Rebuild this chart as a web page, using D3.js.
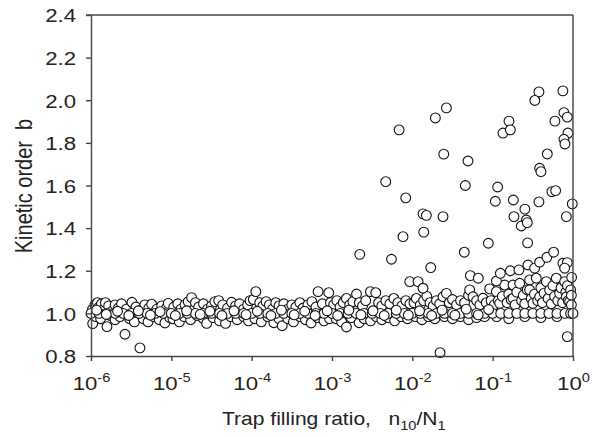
<!DOCTYPE html>
<html>
<head>
<meta charset="utf-8">
<script src="https://cdn.jsdelivr.net/npm/d3@7"></script>
<style>
  body { margin: 0; background: #fff; }
  svg { display: block; font-family: "Liberation Sans", Arial, sans-serif; }
</style>
</head>
<body>
<svg id="chart" width="596" height="437"></svg>
<script>
// axis ticks
const yTicks = [0.8, 1.0, 1.2, 1.4, 1.6, 1.8, 2.0, 2.2, 2.4];
const xTickExp = [-6, -5, -4, -3, -2, -1, 0];

// points sitting right on b = 1.0 (log10 of n10/N1)
const rowLogN = [-6.0, -5.9, -5.8, -5.7, -5.6, -5.5, -5.4, -5.3, -5.2, -5.1,
  -5.0, -4.9, -4.8, -4.7, -4.6, -4.5, -4.4, -4.3, -4.2, -4.1,
  -4.0, -3.9, -3.8, -3.7, -3.6, -3.5, -3.4, -3.3, -3.2, -3.1,
  -3.0, -2.9, -2.8, -2.7, -2.6, -2.5, -2.4, -2.3, -2.2, -2.1,
  -2.0, -1.9, -1.8, -1.7, -1.6, -1.5, -1.4, -1.3, -1.2, -1.1,
  -1.0, -0.9, -0.8, -0.7, -0.6, -0.5, -0.4, -0.3, -0.2, -0.1, -0.03, 0.0];

// scatter band around b = 1  [log10(n10/N1), b]
const bandPts = [
  [-5.98,1.02],[-5.95,1.04],[-5.92,1.05],[-5.9,1.03],[-5.87,1.045],[-5.84,1.02],[-5.82,1.05],[-5.78,1.035],
  [-5.74,1.01],[-5.7,1.04],[-5.66,1.025],[-5.62,1.045],[-5.56,1.02],[-5.49,1.052],[-5.44,1.03],[-5.38,1.015],
  [-5.33,1.04],[-5.28,1.025],[-5.245,1.043],[-5.18,1.02],[-5.12,1.035],[-5.06,1.025],[-5.039,1.047],
  [-5.979,0.952],[-5.94,0.985],[-5.88,0.975],[-5.801,0.938],[-5.76,0.99],[-5.7,0.97],[-5.64,0.985],[-5.577,0.902],
  [-5.52,0.975],[-5.46,0.96],[-5.391,0.838],[-5.35,0.975],[-5.29,0.96],[-5.22,0.985],[-5.15,0.97],[-5.08,0.955],[-5.02,0.98],
  [-4.97,1.03],[-4.92,1.045],[-4.88,1.02],[-4.83,1.04],[-4.79,1.055],[-4.748,1.074],[-4.7,1.05],[-4.66,1.03],
  [-4.6,1.045],[-4.55,1.02],[-4.5,1.035],[-4.458,1.055],[-4.41,1.06],[-4.36,1.04],[-4.3,1.025],[-4.25,1.052],
  [-4.2,1.035],[-4.15,1.045],[-4.1,1.02],[-4.05,1.04],[-4.02,1.06],
  [-4.98,0.975],[-4.9,0.96],[-4.84,0.985],[-4.76,0.97],[-4.68,0.99],[-4.6,0.975],[-4.56,0.953],[-4.48,0.98],
  [-4.4,0.965],[-4.325,0.953],[-4.26,0.985],[-4.18,0.97],[-4.1,0.985],[-4.04,0.965],
  [-3.98,1.065],[-3.948,1.102],[-3.9,1.05],[-3.86,1.035],[-3.82,1.055],[-3.78,1.04],[-3.74,1.02],[-3.7,1.05],
  [-3.66,1.035],[-3.6,1.045],[-3.55,1.02],[-3.5,1.04],[-3.45,1.03],[-3.4,1.05],[-3.36,1.025],[-3.3,1.04],
  [-3.25,1.055],[-3.2,1.03],[-3.173,1.102],[-3.12,1.045],[-3.04,1.097],[-3.02,1.05],
  [-3.96,0.975],[-3.88,0.96],[-3.8,0.985],[-3.724,0.956],[-3.66,0.975],[-3.62,0.942],[-3.55,0.975],[-3.48,0.96],
  [-3.4,0.985],[-3.33,0.97],[-3.26,0.955],[-3.18,0.98],[-3.1,0.965],[-3.03,0.975],
  [-2.98,1.04],[-2.94,1.06],[-2.9,1.03],[-2.86,1.05],[-2.82,1.07],[-2.78,1.04],[-2.74,1.055],[-2.695,1.091],
  [-2.66,1.05],[-2.62,1.035],[-2.58,1.06],[-2.522,1.102],[-2.455,1.097],[-2.42,1.05],[-2.38,1.035],[-2.33,1.06],
  [-2.28,1.045],[-2.23,1.07],[-2.18,1.05],[-2.13,1.035],[-2.08,1.06],[-2.03,1.045],
  [-2.95,0.975],[-2.88,0.96],[-2.82,0.936],[-2.76,0.98],[-2.663,0.956],[-2.6,0.975],[-2.52,0.965],[-2.45,0.985],
  [-2.38,0.97],[-2.3,0.98],[-2.22,0.965],[-2.14,0.985],[-2.06,0.975],
  [-1.98,1.05],[-1.95,1.07],[-1.9,1.04],[-1.86,1.06],[-1.82,1.08],[-1.78,1.05],[-1.74,1.035],[-1.7,1.06],
  [-1.66,1.045],[-1.618,1.078],[-1.576,1.094],[-1.54,1.05],[-1.5,1.065],[-1.45,1.04],[-1.4,1.06],[-1.35,1.05],
  [-1.3,1.085],[-1.286,1.11],[-1.245,1.078],[-1.2,1.06],[-1.16,1.04],[-1.121,1.071],[-1.08,1.05],[-1.037,1.115],[-1.02,1.06],
  [-1.96,0.985],[-1.88,0.97],[-1.8,0.985],[-1.72,0.975],[-1.6,0.985],[-1.5,0.975],[-1.4,0.985],[-1.3,0.97],[-1.2,0.98],[-1.1,0.985],
  [-0.98,1.04],[-0.954,1.102],[-0.93,1.06],[-0.913,1.047],[-0.88,1.08],[-0.851,1.133],[-0.82,1.05],[-0.8,1.09],
  [-0.77,1.065],[-0.747,1.133],[-0.747,1.071],[-0.72,1.04],[-0.7,1.1],[-0.664,1.141],[-0.64,1.06],[-0.62,1.085],
  [-0.6,1.045],[-0.57,1.11],[-0.54,1.157],[-0.54,1.11],[-0.52,1.07],[-0.499,1.047],[-0.48,1.09],[-0.457,1.165],
  [-0.44,1.06],[-0.415,1.078],[-0.4,1.12],[-0.38,1.05],[-0.36,1.095],[-0.332,1.149],[-0.31,1.07],[-0.291,1.11],
  [-0.27,1.045],[-0.25,1.13],[-0.23,1.08],[-0.208,1.165],[-0.19,1.06],[-0.167,1.094],[-0.15,1.12],[-0.13,1.05],
  [-0.104,1.149],[-0.09,1.1],[-0.083,1.078],[-0.07,1.13],[-0.06,1.06],[-0.042,1.055],[-0.03,1.11],[-0.02,1.085],[-0.02,1.04],
  [-0.95,0.985],[-0.8,0.975],[-0.6,0.985],[-0.4,0.98],[-0.2,0.985]
];

// band points that lie on top of the b = 1.0 row
const bandFrontPts = [
  [-5.93,1.015],[-5.81,0.995],[-5.67,1.01],[-5.53,0.99],[-5.41,1.012],[-5.26,0.992],[-5.14,1.008],
  [-4.95,0.99],[-4.81,1.012],[-4.64,0.995],[-4.52,1.01],[-4.37,0.99],[-4.22,1.012],[-4.07,0.994],
  [-3.93,1.01],[-3.76,0.99],[-3.63,1.015],[-3.47,0.993],[-3.34,1.01],[-3.21,0.99],[-3.06,1.012],
  [-2.93,0.99],[-2.79,1.015],[-2.64,0.993],[-2.49,1.012],[-2.35,0.99],[-2.2,1.015],[-2.05,0.992],
  [-1.91,1.012],[-1.76,0.99],[-1.63,1.015],[-1.47,0.992],[-1.33,1.02],[-1.18,0.993],[-1.05,1.018]
];

// points well above the band, plus two low outliers
const highPts = [
  [-0.424,2.039],[-0.475,1.999],[-0.126,2.044],[-1.576,1.964],[-1.713,1.917],[-2.165,1.861],[-0.797,1.902],
  [-0.872,1.846],[-0.780,1.861],[-0.113,1.942],[-0.071,1.921],[-0.225,1.902],[-0.063,1.846],[-0.113,1.817],
  [-0.100,1.795],[-1.609,1.747],[-1.307,1.715],[-0.320,1.748],[-0.416,1.681],[-0.399,1.665],[-2.331,1.618],
  [-1.340,1.600],[-0.938,1.593],[-2.082,1.542],[-0.967,1.526],[-0.743,1.532],[-0.263,1.571],[-0.216,1.576],
  [-0.424,1.523],[-0.009,1.514],[-0.599,1.489],[-1.867,1.467],[-1.825,1.460],[-1.618,1.454],[-0.735,1.454],
  [-0.581,1.438],[-0.083,1.454],[-0.644,1.410],[-0.569,1.426],[-2.654,1.277],[-2.116,1.360],[-1.858,1.381],
  [-2.260,1.254],[-1.353,1.287],[-1.054,1.329],[-0.565,1.331],[-1.771,1.215],[-2.032,1.149],[-1.929,1.149],
  [-1.867,1.118],[-1.278,1.177],[-1.179,1.165],[-0.954,1.152],[-0.904,1.188],[-0.780,1.200],[-0.673,1.204],
  [-0.561,1.227],[-0.478,1.212],[-0.416,1.240],[-0.325,1.263],[-0.241,1.287],[-0.126,1.235],[-0.071,1.238],
  [-0.104,1.212],[-0.017,1.169],
  [-1.655,0.816],[-0.071,0.891]
];

const svg = d3.select("#chart");
const margin = { top: 15, right: 23, bottom: 81, left: 91 },
      width = 596, height = 437;
const sx = 1.17;   // labels in the original are drawn a bit wide
const axisColor = "#444";

const x = d3.scaleLog()
  .domain([1e-6, 1])
  .range([margin.left, width - margin.right]);

const y = d3.scaleLinear()
  .domain([0.8, 2.4])
  .range([height - margin.bottom, margin.top]);

// markers
const dots = svg.append("g")
  .attr("fill", "#fff")
  .attr("stroke", "#111")
  .attr("stroke-width", 1.1);

const drawDots = pts => dots.selectAll(null)
  .data(pts)
  .enter().append("circle")
  .attr("cx", d => x(Math.pow(10, d[0])))
  .attr("cy", d => y(d[1]))
  .attr("r", 4.9);

drawDots(bandPts);
drawDots(highPts);
drawDots(rowLogN.map(v => [v, 1.0]));
drawDots(bandFrontPts);

// frame: top and right
svg.append("line")
  .attr("x1", margin.left - 5).attr("x2", width - margin.right)
  .attr("y1", y(2.4)).attr("y2", y(2.4))
  .attr("stroke", axisColor).attr("stroke-width", 1.4);
svg.append("line")
  .attr("x1", width - margin.right).attr("x2", width - margin.right)
  .attr("y1", y(2.4)).attr("y2", y(0.8))
  .attr("stroke", axisColor).attr("stroke-width", 1.4);

// y axis
svg.append("g")
  .attr("transform", `translate(${margin.left},0)`)
  .call(d3.axisLeft(y).tickValues(yTicks).tickSize(5).tickSizeOuter(0).tickFormat(d3.format(".1f")))
  .attr("font-family", null).attr("font-size", null)
  .call(g => g.selectAll(".domain, .tick line").attr("stroke", axisColor).attr("stroke-width", 1.4))
  .call(g => g.selectAll(".tick text")
    .attr("x", 0).attr("dy", null)
    .attr("transform", `translate(-15,6.8) scale(${sx},1)`)
    .attr("font-size", 19)
    .attr("fill", "#222"));

// x axis
const xAxis = svg.append("g")
  .attr("transform", `translate(0,${height - margin.bottom})`)
  .call(d3.axisBottom(x).tickValues(xTickExp.map(e => Math.pow(10, e))).tickSize(5).tickSizeOuter(0).tickFormat(""))
  .attr("font-family", null).attr("font-size", null)
  .call(g => g.selectAll(".domain, .tick line").attr("stroke", axisColor).attr("stroke-width", 1.4));

xAxis.selectAll(".tick text").remove();
xAxis.selectAll(".tick").each(function (d, i) {
  const t = d3.select(this).append("text")
    .attr("transform", `translate(0,34) scale(${sx},1)`)
    .attr("text-anchor", "middle")
    .attr("fill", "#222");
  t.append("tspan").attr("font-size", 19).text("10");
  t.append("tspan").attr("font-size", 12.5).attr("dy", -8).text(xTickExp[i]);
});

// axis titles
const xt = svg.append("text")
  .attr("transform", `translate(222,425) scale(${sx},1)`)
  .attr("fill", "#222")
  .attr("font-size", 18)
  .style("white-space", "pre");
xt.append("tspan").text("Trap filling ratio,   n");
xt.append("tspan").attr("font-size", 12.5).attr("dy", 5).text("10");
xt.append("tspan").attr("dy", -5).text("/N");
xt.append("tspan").attr("font-size", 12.5).attr("dy", 5).text("1");

svg.append("text")
  .attr("transform", `translate(32,186) scale(${sx},1) rotate(-90)`)
  .attr("text-anchor", "middle")
  .attr("fill", "#222")
  .attr("font-size", 20)
  .style("white-space", "pre")
  .text("Kinetic order  b");
</script>
</body>
</html>
